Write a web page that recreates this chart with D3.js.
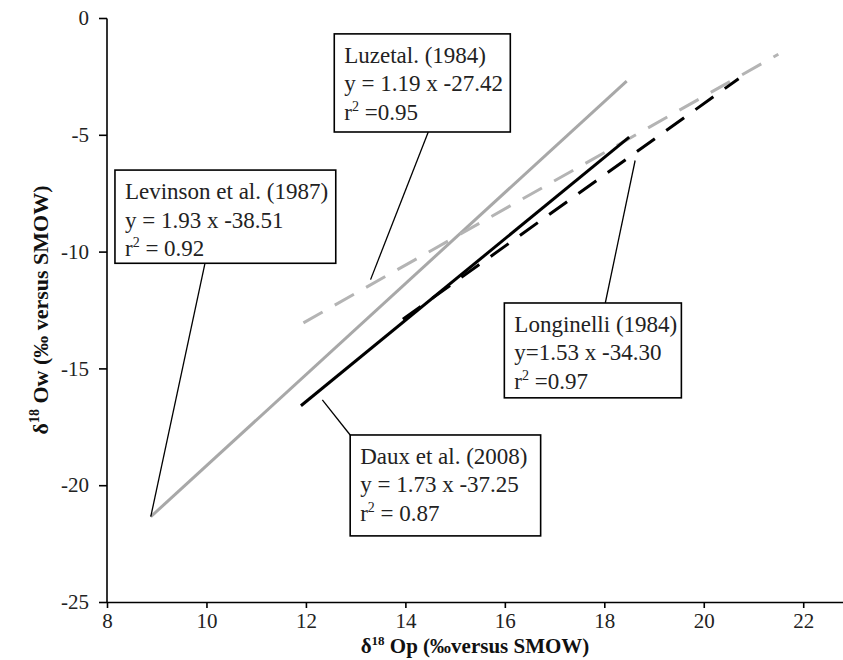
<!DOCTYPE html>
<html><head><meta charset="utf-8">
<script src="https://cdn.jsdelivr.net/npm/d3@7"></script>
<style>body{margin:0;background:#fff}svg{display:block}</style>
</head><body>
<svg id="c" width="843" height="660"></svg>
<script>
// ---- data ----
const xTicks = [8, 10, 12, 14, 16, 18, 20, 22];
const yTicks = [0, -5, -10, -15, -20, -25];
const seriesNames = ["Levinson et al. (1987)", "Luzetal. (1984)", "Daux et al. (2008)", "Longinelli (1984)"];
const seriesX = [[8.88, 18.45], [11.95, 21.5], [11.9, 18.5], [13.95, 20.7]];
const seriesY = [[-21.35, -2.7], [-13.05, -1.55], [-16.6, -5.1], [-12.9, -2.6]];
const labelLines = [
  ["Levinson et al. (1987)", "y = 1.93 x -38.51", "r|2|  = 0.92"],
  ["Luzetal. (1984)", "y = 1.19 x -27.42", "r|2| =0.95"],
  ["Daux et al. (2008)", "y = 1.73 x -37.25", "r|2| = 0.87"],
  ["Longinelli (1984)", "y=1.53 x -34.30", "r|2| =0.97"]
];
// box corners (data units) and pointer ends (data units)
const boxX0 = [8.16, 12.57, 12.89, 15.99];
const boxX1 = [12.6, 16.11, 16.72, 19.55];
const boxY0 = [-6.51, -0.68, -17.85, -12.2];
const boxY1 = [-10.5, -4.88, -22.17, -16.26];
const ptrX0 = [9.97, 14.46, 12.89, 18.02];
const ptrY0 = [-10.5, -4.88, -17.85, -12.2];
const ptrX1 = [8.88, 13.3, 12.33, 18.62];
const ptrY1 = [-21.35, -11.2, -16.35, -6.1];

// ---- drawing ----
const svg = d3.select("#c");
const x = d3.scaleLinear().domain([8, 22.8]).range([107, 843]);
const y = d3.scaleLinear().domain([-25, 0]).range([602, 18]);
const styles = [
  {c: "#a8a8a8", d: null},
  {c: "#b4b4b4", d: "22,14"},
  {c: "#000", d: null},
  {c: "#000", d: "22,14"}
];
const font = "'Liberation Serif','Times New Roman',serif";

// axes
const xa = svg.append("g").attr("transform", "translate(0,602)")
  .call(d3.axisBottom(x).tickValues(xTicks).tickSize(6).tickPadding(5).tickFormat(d3.format("d")));
const ya = svg.append("g").attr("transform", "translate(107,0)")
  .call(d3.axisLeft(y).tickValues(yTicks).tickSize(8).tickPadding(10).tickFormat(d => d === 0 ? "0" : "-" + Math.abs(d)));
[xa, ya].forEach(a => {
  a.select(".domain").attr("stroke", "#000").attr("stroke-width", 1.6);
  a.selectAll(".tick line").attr("stroke", "#000").attr("stroke-width", 1.6);
  a.selectAll(".tick text").attr("font-family", font).attr("font-size", 21).attr("fill", "#222");
});
ya.select(".domain").attr("d", "M0,602.5V18.5");
xa.select(".domain").attr("d", "M" + x.range()[0] + ",0.5H" + x.range()[1]);

// lines
seriesNames.forEach((n, i) => {
  svg.append("line")
    .attr("x1", x(seriesX[i][0])).attr("y1", y(seriesY[i][0]))
    .attr("x2", x(seriesX[i][1])).attr("y2", y(seriesY[i][1]))
    .attr("stroke", styles[i].c).attr("stroke-width", 3)
    .attr("stroke-dasharray", styles[i].d);
});

// annotation pointers and boxes
labelLines.forEach((lines, i) => {
  svg.append("line")
    .attr("x1", x(ptrX0[i])).attr("y1", y(ptrY0[i]))
    .attr("x2", x(ptrX1[i])).attr("y2", y(ptrY1[i]))
    .attr("stroke", "#000").attr("stroke-width", 1.3);
  const bx = x(boxX0[i]), by = y(boxY0[i]);
  const bw = x(boxX1[i]) - bx, bh = y(boxY1[i]) - by;
  svg.append("rect").attr("x", bx).attr("y", by).attr("width", bw).attr("height", bh)
    .attr("fill", "#fff").attr("stroke", "#000").attr("stroke-width", 1.6);
  lines.forEach((t, j) => {
    const tx = svg.append("text").attr("x", bx + 10).attr("y", by + 29 + j * 28.5)
      .attr("font-family", font).attr("font-size", 23).attr("fill", "#222");
    const parts = t.split("|");
    tx.append("tspan").text(parts[0]);
    if (parts.length > 1) {
      tx.append("tspan").attr("dy", -9).attr("font-size", 14).text(parts[1]);
      tx.append("tspan").attr("dy", 9).text(parts[2]);
    }
  });
});

// axis titles
const xt = svg.append("text").attr("x", 475).attr("y", 653).attr("text-anchor", "middle")
  .attr("font-family", font).attr("font-size", 21).attr("font-weight", "bold").attr("fill", "#111");
xt.append("tspan").text("δ");
xt.append("tspan").attr("dy", -8).attr("font-size", 13).text("18");
xt.append("tspan").attr("dy", 8).text(" Op (‰versus SMOW)");

const yt = svg.append("text").attr("transform", "translate(48,310) rotate(-90)").attr("text-anchor", "middle")
  .attr("font-family", font).attr("font-size", 22).attr("font-weight", "bold").attr("fill", "#111");
yt.append("tspan").text("δ");
yt.append("tspan").attr("dy", -9).attr("font-size", 14).text("18");
yt.append("tspan").attr("dy", 9).text(" Ow (‰ versus SMOW)");
</script>
</body></html>
